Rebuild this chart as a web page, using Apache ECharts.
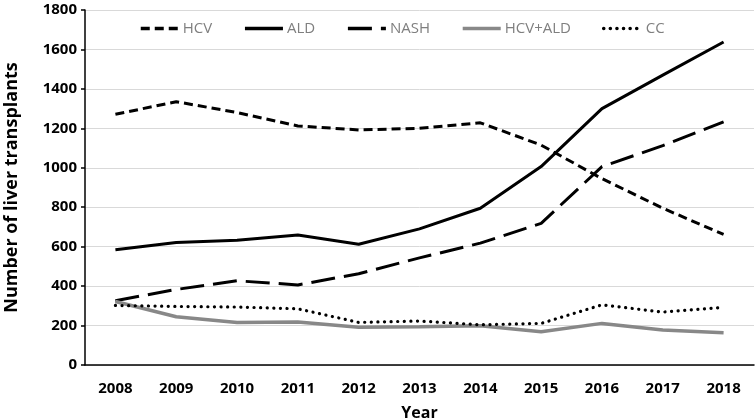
<!DOCTYPE html>
<html><head><meta charset="utf-8">
<script src="https://cdn.jsdelivr.net/npm/echarts@6/dist/echarts.min.js"></script>
<style>html,body{margin:0;padding:0;background:#fff}#c{width:756px;height:418px}</style>
</head><body><div id="c"></div>
<script>
const years = ['2008','2009','2010','2011','2012','2013','2014','2015','2016','2017','2018'];
const hcv = [1271, 1335, 1280, 1212, 1192, 1200, 1228, 1115, 945, 795, 662];
const ald = [584, 621, 633, 659, 612, 690, 795, 1006, 1300, 1470, 1638];
const nash = [326, 383, 427, 406, 463, 543, 618, 718, 1006, 1112, 1233];
const hcvAld = [322, 245, 216, 218, 191, 194, 199, 169, 211, 177, 164];
const cc = [302, 297, 294, 285, 216, 223, 204, 211, 305, 268, 292];
const yTicks = {min: 0, max: 1800, interval: 200};

const font = 'Open Sans';
function mk(name, data, color, width, type, cap) {
  return {name, type: 'line', data, symbol: 'none', smooth: false,
    lineStyle: {color, width, type, cap: cap || 'butt'}, itemStyle: {color}};
}
const chart = echarts.init(document.getElementById('c'));
chart.setOption({
  animation: false,
  backgroundColor: '#fff',
  grid: {left: 85, right: 2, top: 10, bottom: 53, outerBoundsMode: 'none', containLabel: false},
  legend: {
    left: 134, top: 16, itemWidth: 38, itemHeight: 14, itemGap: 31,
    itemStyle: {opacity: 0},
    lineStyle: {width: 3.5},
    textStyle: {color: '#7f7f7f', fontFamily: font, fontSize: 15, padding: [0,0,0,-1]},
    data: ['HCV','ALD','NASH','HCV+ALD','CC']
  },
  xAxis: {
    type: 'category', data: years, boundaryGap: true,
    name: 'Year', nameLocation: 'middle', nameGap: 40,
    nameTextStyle: {fontFamily: font, fontWeight: 'bold', fontSize: 16, color: '#000'},
    axisLine: {lineStyle: {color: '#000', width: 1.5}},
    axisTick: {inside: true, length: 5, lineStyle: {color: '#000', width: 1.5}},
    axisLabel: {fontFamily: font, fontWeight: 'bold', fontSize: 15, color: '#000', margin: 16},
    splitLine: {show: false}
  },
  yAxis: {
    type: 'value', min: yTicks.min, max: yTicks.max, interval: yTicks.interval,
    name: 'Number of liver transplants', nameLocation: 'middle', nameGap: 64,
    nameTextStyle: {fontFamily: font, fontWeight: 'bold', fontSize: 18, color: '#000'},
    axisLine: {show: true, lineStyle: {color: '#000', width: 1.5}},
    axisTick: {show: true, length: 4, lineStyle: {color: '#000', width: 1.5}},
    axisLabel: {fontFamily: font, fontWeight: 'bold', fontSize: 15, color: '#000', margin: 8,
      formatter: v => String(v)},
    splitLine: {lineStyle: {color: '#d9d9d9', width: 1}}
  },
  series: [
    mk('HCV', hcv, '#000', 3, [9, 5]),
    mk('ALD', ald, '#000', 3, 'solid'),
    mk('NASH', nash, '#000', 3, [24, 9]),
    mk('HCV+ALD', hcvAld, '#888888', 3.5, 'solid'),
    mk('CC', cc, '#000', 3.2, [0.1, 6.5], 'round')
  ]
});
</script></body></html>
